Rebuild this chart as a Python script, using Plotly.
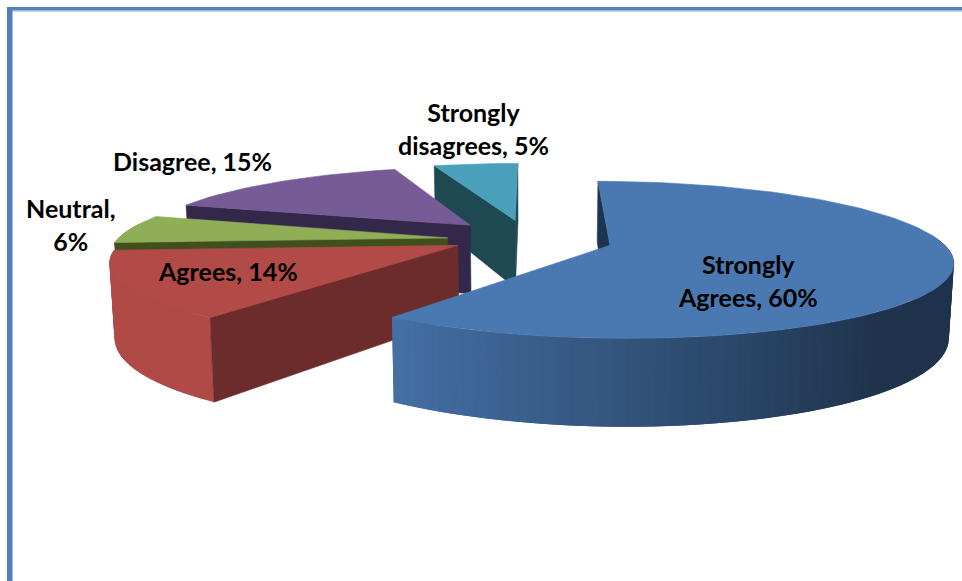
import math
import plotly.graph_objects as go

# Data
categories = ["Strongly Agrees", "Agrees", "Neutral", "Disagree", "Strongly disagrees"]
shares = [60, 14, 6, 15, 5]
labels = ["Strongly<br>Agrees, 60%", "Agrees, 14%", "Neutral,<br>6%", "Disagree, 15%", "Strongly<br>disagrees, 5%"]

# Styles per slice
top_colors = ["#4A79B1", "#B24B47", "#8FAE55", "#775B96", "#4AA0BA"]
wall_colors = ["#1E3552", "#6B2C2B", "#414F1F", "#34284A", "#1E4852"]
side_near = ["#4470A5", "#B04A47", "#6F8A3A", "#5A4575", "#2F7A90"]
side_far = ["#1F334C", "#AC4845", "#6F8A3A", "#5A4575", "#2F7A90"]
label_xy = [(748, 280), (228, 271), (71, 224), (192, 161), (473, 128)]

# Projection of the ground plane (view settings of the 3-D pie)
VP_X, HORIZON, K, D = 533.0, -165.0, 2220.0, 5.41
RADIUS, HEIGHT, BOTTOM_SHRINK = 335.0, 72.0, 0.988
slice_shift = [(77, 0.0), (-75, 0.0), (-87, 0.10), (-66, 0.278), (-19, 0.35)]
slice_scale = [1.0, 1.014, 1.0, 1.0, 1.0]


def project(i, u, v, z=0.0):
    sx, sv = slice_shift[i]
    vv = v + sv
    s = D / (D + vv)
    x = VP_X + (sx + RADIUS * slice_scale[i] * u) * s
    y = HORIZON + K / (D + vv) + z * HEIGHT * s
    if z:
        x = VP_X + (x - VP_X) * BOTTOM_SHRINK
    return x, y


def rim(i, deg, z=0.0):
    a = math.radians(deg)
    return project(i, math.sin(a), math.cos(a), z)


def area(pts):
    return sum(pts[k][0] * pts[(k + 1) % len(pts)][1] - pts[(k + 1) % len(pts)][0] * pts[k][1]
               for k in range(len(pts))) / 2


def mix(c1, c2, t):
    a = [int(c1[j:j + 2], 16) for j in (1, 3, 5)]
    b = [int(c2[j:j + 2], 16) for j in (1, 3, 5)]
    return "#" + "".join(f"{round(p + (q - p) * t):02X}" for p, q in zip(a, b))


fig = go.Figure()


def poly(pts, color, name, edge=0.6):
    xs = [p[0] for p in pts] + [pts[0][0]]
    ys = [p[1] for p in pts] + [pts[0][1]]
    fig.add_trace(go.Scatter(x=xs, y=ys, mode="lines", fill="toself", fillcolor=color,
                             line=dict(color=color, width=edge), name=name,
                             hoverinfo="skip", showlegend=False))


# Slices are painted from the farthest to the nearest one
start = 0.0
spans = []
for value in shares:
    spans.append((start, start + value * 3.6))
    start += value * 3.6

for i in [4, 3, 2, 1, 0]:
    a0, a1 = spans[i]
    name = categories[i]
    n = max(2, int((a1 - a0) / 2))
    angles = [a0 + (a1 - a0) * k / n for k in range(n + 1)]

    # outer rim, front half only; every strip overlaps the next one so no seams show
    for k in range(n):
        mid = (angles[k] + angles[k + 1]) / 2
        if math.cos(math.radians(mid)) > 0.15:
            continue
        t = min(1.0, max(0.0, (math.sin(math.radians(mid)) + 0.59) / 1.25))
        col = mix(side_near[i], side_far[i], t)
        strip = angles[k:k + 3]
        outline = [rim(i, a) for a in strip] + [rim(i, a, 1) for a in reversed(strip)]
        poly(outline, col, name, edge=0)

    # the two cut walls, only where they face the viewer
    w0 = [rim(i, a0), project(i, 0, 0), project(i, 0, 0, 1), rim(i, a0, 1)]
    w1 = [rim(i, a1), project(i, 0, 0), project(i, 0, 0, 1), rim(i, a1, 1)]
    if area(w0) > 0:
        poly(w0, wall_colors[i], name)
    if area(w1) < 0:
        poly(w1, wall_colors[i], name)

    # top face
    poly([project(i, 0, 0)] + [rim(i, a) for a in angles], top_colors[i], name)

annotations = [
    dict(x=xy[0], y=xy[1], xref="x", yref="y", text=f"<b>{t}</b>", showarrow=False,
         font=dict(family="Lato", size=25, color="#000000"), align="center")
    for t, xy in zip(labels, label_xy)
]

fig.update_layout(
    width=962, height=581, margin=dict(l=0, r=0, t=0, b=0),
    paper_bgcolor="white", plot_bgcolor="white", showlegend=False,
    xaxis=dict(range=[0, 962], visible=False, fixedrange=True),
    yaxis=dict(range=[581, 0], visible=False, fixedrange=True),
    annotations=annotations,
    shapes=[
        dict(type="rect", xref="x", yref="y", x0=7, x1=962, y0=7, y1=10.5, fillcolor="#4F81BD", line_width=0, layer="above"),
        dict(type="rect", xref="x", yref="y", x0=7, x1=962, y0=10.5, y1=11.5, fillcolor="#8FB0D8", line_width=0, layer="above"),
        dict(type="rect", xref="x", yref="y", x0=7, x1=12.5, y0=7, y1=581, fillcolor="#4F81BD", line_width=0, layer="above"),
    ],
)
fig.write_html("out.html", config={"displayModeBar": False},
               post_script="document.body.style.margin='0';document.body.style.overflow='hidden';")
